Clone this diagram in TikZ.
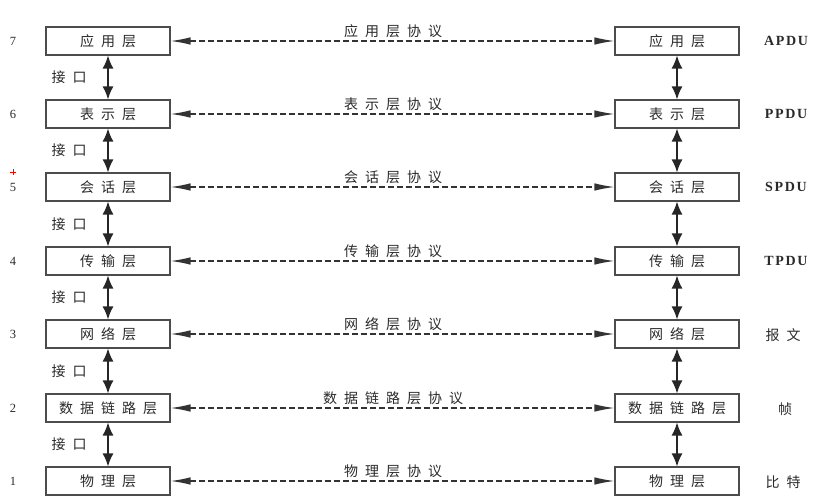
\documentclass[tikz,border=0pt]{standalone}
\usepackage{fontspec}
\setmainfont{Liberation Serif}
\newfontfamily\cjk[LetterSpace=50]{Noto Sans CJK SC}
\newfontfamily\pdufont[LetterSpace=12]{Liberation Serif}
\usetikzlibrary{arrows.meta}
\definecolor{txt}{HTML}{2A2A2A}
\tikzset{
  layer/.style={draw=black!70, line width=1.1pt, minimum width=124pt, minimum height=28pt,
    inner sep=0pt, text=txt, font=\cjk\fontsize{14}{15}\selectfont},
  protolbl/.style={inner sep=0pt, text=txt, font=\cjk\fontsize{14}{15}\selectfont},
  numlbl/.style={inner sep=0pt, text=txt, font=\fontsize{12.5}{13}\selectfont},
  pdulbl/.style={inner sep=0pt, text=txt, font=\pdufont\bfseries\fontsize{14}{15}\selectfont},
  pducjk/.style={inner sep=0pt, text=txt, font=\cjk\fontsize{14}{15}\selectfont},
  harr/.style={{Latex[length=20pt,width=7.5pt]}-{Latex[length=20pt,width=7.5pt]}, line width=1.2pt,
    dash pattern=on 6pt off 3pt, draw=black!80},
  varr/.style={{Latex[length=13pt,width=11pt]}-{Latex[length=13pt,width=11pt]}, line width=1.6pt,
    draw=black!85}
}
\begin{document}
\begin{tikzpicture}[x=1pt,y=-1pt]
\useasboundingbox (0,0) rectangle (825,502);
\foreach \i/\n/\y in {7/应用层/41,6/表示层/114,5/会话层/187,4/传输层/261,3/网络层/334,2/数据链路层/408,1/物理层/481}{
  \node[layer] (L\i) at (108,\y) {\n};
  \node[layer] (R\i) at (677,\y) {\n};
  \node[numlbl] (N\i) at (13,\y) {\i};
  \draw[harr] (L\i.east) -- (R\i.west);
  \node[protolbl] (P\i) at (393,\y-10) {\n 协议};
}
\node[pdulbl] (D7) at (786,41) {APDU};
\node[pdulbl] (D6) at (786,114) {PPDU};
\node[pdulbl] (D5) at (786,187) {SPDU};
\node[pdulbl] (D4) at (786,261) {TPDU};
\node[pducjk] (D3) at (783,335) {报文};
\node[pducjk] (D2) at (785,409) {帧};
\node[pducjk] (D1) at (783,482) {比特};
\foreach \i/\j in {7/6,6/5,5/4,4/3,3/2,2/1}{
  \draw[varr] (L\i.south) -- (L\j.north);
  \draw[varr] (R\i.south) -- (R\j.north);
  \path (L\i.south) -- (L\j.north) coordinate[midway] (M\i);
  \node[protolbl, anchor=center] (K\i) at ([xshift=-39pt]M\i) {接口};
}
\draw[red, line width=0.9pt] (10,172) -- (16,172) (13,169) -- (13,175);
\end{tikzpicture}
\end{document}
